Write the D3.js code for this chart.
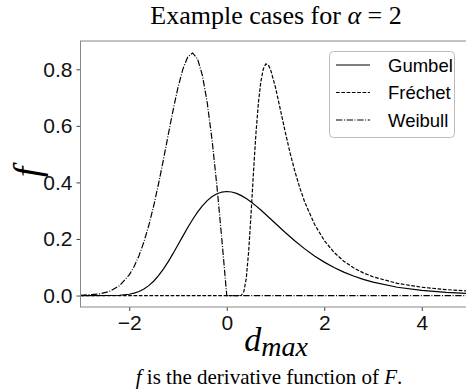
<!DOCTYPE html>
<html>
<head>
<meta charset="utf-8">
<script src="https://cdn.jsdelivr.net/npm/d3@7"></script>
<style>
  body { margin: 0; background: #fff; }
</style>
</head>
<body>
<div id="container"></div>
<script>
// values
var gumbelX = [-3, -2.4, -2.2, -2.0, -1.9, -1.8, -1.7, -1.6, -1.5, -1.4, -1.3, -1.2, -1.1, -1.0, -0.9, -0.8, -0.7, -0.6, -0.5, -0.4, -0.3, -0.2, -0.1, 0, 0.1, 0.2, 0.3, 0.4, 0.5, 0.6, 0.7, 0.8, 0.9, 1.0, 1.2, 1.4, 1.6, 1.8, 2.0, 2.2, 2.4, 2.6, 2.8, 3.0, 3.5, 4.0, 4.5, 5.0]
var gumbelY = [0, 0.0002, 0.0011, 0.0046, 0.0084, 0.0143, 0.0230, 0.0350, 0.0507, 0.0703, 0.0935, 0.1200, 0.1489, 0.1794, 0.2102, 0.2404, 0.2688, 0.2946, 0.3170, 0.3356, 0.3500, 0.3601, 0.3660, 0.3679, 0.3661, 0.3611, 0.3532, 0.3429, 0.3307, 0.3170, 0.3022, 0.2867, 0.2707, 0.2546, 0.2229, 0.1927, 0.1650, 0.1401, 0.1182, 0.0992, 0.0829, 0.0690, 0.0572, 0.0474, 0.0293, 0.0180, 0.0110, 0.0067]

var frechetX = [-3, 0, 0.25, 0.3, 0.35, 0.4, 0.45, 0.5, 0.55, 0.6, 0.65, 0.7, 0.75, 0.8, 0.85, 0.9, 1.0, 1.1, 1.2, 1.3, 1.4, 1.5, 1.6, 1.8, 2.0, 2.2, 2.4, 2.6, 2.8, 3.0, 3.5, 4.0, 4.5, 5.0]
var frechetY = [0, 0, 0, 0.0011, 0.0133, 0.0603, 0.1574, 0.2930, 0.4408, 0.5757, 0.6830, 0.7574, 0.8011, 0.8188, 0.8161, 0.7982, 0.7358, 0.6575, 0.5780, 0.5037, 0.4376, 0.3800, 0.3304, 0.2519, 0.1947, 0.1528, 0.1216, 0.0982, 0.0802, 0.0663, 0.0430, 0.0294, 0.0209, 0.0154]

var weibullX = [-3, -2.6, -2.4, -2.2, -2.0, -1.9, -1.8, -1.7, -1.6, -1.5, -1.4, -1.3, -1.2, -1.1, -1.0, -0.9, -0.8, -0.7, -0.6, -0.5, -0.4, -0.3, -0.2, -0.1, 0, 5]
var weibullY = [0.0007, 0.0060, 0.0151, 0.0348, 0.0733, 0.1028, 0.1410, 0.1890, 0.2474, 0.3162, 0.3944, 0.4798, 0.5686, 0.6560, 0.7358, 0.8007, 0.8437, 0.8577, 0.8372, 0.7788, 0.6817, 0.5484, 0.3843, 0.1980, 0, 0]

var seriesNames = ['Gumbel', 'Fréchet', 'Weibull']
var xTicks = [-2, 0, 2, 4]
var yTicks = [0.0, 0.2, 0.4, 0.6, 0.8]

var width = 466, height = 389

var svg = d3.select('#container').append('svg')
  .attr('width', width).attr('height', height)
  .style('font-family', '"Liberation Sans", Arial, sans-serif')

var x = d3.scaleLinear().domain([-3, 5]).range([80.5, 470.5])
var y = d3.scaleLinear().domain([-0.0405, 0.9]).range([307, 41])

svg.append('clipPath').attr('id', 'plot')
  .append('rect')
  .attr('x', x(-3)).attr('y', y(0.9))
  .attr('width', x(5) - x(-3)).attr('height', y(-0.0405) - y(0.9))

var styles = [
  { dash: null },
  { dash: '3.7,1.6' },
  { dash: '6.4,1.6,1,1.6' }
]

var series = [
  d3.zip(gumbelX, gumbelY),
  d3.zip(frechetX, frechetY),
  d3.zip(weibullX, weibullY)
]

var line = d3.line()
  .x(function (d) { return x(d[0]) })
  .y(function (d) { return y(d[1]) })

var plot = svg.append('g').attr('clip-path', 'url(#plot)')
series.forEach(function (s, i) {
  plot.append('path')
    .datum(s)
    .attr('d', line)
    .attr('fill', 'none')
    .attr('stroke', '#000')
    .attr('stroke-width', 1.2)
    .attr('stroke-dasharray', styles[i].dash)
})

// axes
var xAxis = svg.append('g')
  .attr('transform', 'translate(0,' + y(-0.0405) + ')')
  .call(d3.axisBottom(x).tickValues(xTicks).tickSizeOuter(0).tickSize(4).tickPadding(4))
var yAxis = svg.append('g')
  .attr('transform', 'translate(' + x(-3) + ',0)')
  .call(d3.axisLeft(y).tickValues(yTicks).tickFormat(d3.format('.1f')).tickSizeOuter(0).tickSize(4).tickPadding(4))

;[xAxis, yAxis].forEach(function (a) {
  a.select('.domain').remove()
  a.selectAll('line').attr('stroke', '#444')
  a.selectAll('text').attr('fill', '#111')
    .style('font-size', '21px')
    .style('font-family', '"Liberation Sans", Arial, sans-serif')
})

// frame
svg.append('rect')
  .attr('x', x(-3)).attr('y', y(0.9))
  .attr('width', x(5) - x(-3)).attr('height', y(-0.0405) - y(0.9))
  .attr('fill', 'none').attr('stroke', '#888').attr('stroke-width', 1)

// legend
var legend = svg.append('g')
legend.append('rect')
  .attr('x', 329.5).attr('y', 51.5).attr('width', 125).attr('height', 86)
  .attr('rx', 4).attr('fill', '#fff').attr('stroke', '#bbb').attr('stroke-width', 1)
seriesNames.forEach(function (name, i) {
  var ly = 65 + i * 27.5
  legend.append('line')
    .attr('x1', 336).attr('x2', 370).attr('y1', ly).attr('y2', ly)
    .attr('stroke', '#000').attr('stroke-width', 1.2)
    .attr('stroke-dasharray', styles[i].dash)
  legend.append('text')
    .attr('x', 388).attr('y', ly + 6.5)
    .style('font-size', '18.5px')
    .text(name)
})

// titles
var serif = '"Liberation Serif", "DejaVu Serif", serif'
var title = svg.append('text')
  .attr('x', 276).attr('y', 24)
  .attr('text-anchor', 'middle')
  .style('font-family', serif).style('font-size', '26px')
title.append('tspan').text('Example cases for ')
title.append('tspan').style('font-style', 'italic').text('α')
title.append('tspan').text(' = 2')

var xl = svg.append('text')
  .attr('x', 276).attr('y', 351)
  .attr('text-anchor', 'middle')
  .style('font-family', serif).style('font-style', 'italic')
xl.append('tspan').style('font-size', '34px').text('d')
xl.append('tspan').style('font-size', '28px').attr('dy', 5).text('max')

svg.append('text')
  .attr('transform', 'translate(40,172) rotate(-90)')
  .attr('text-anchor', 'middle')
  .style('font-family', serif).style('font-style', 'italic').style('font-size', '38px')
  .text('f')

var cap = svg.append('text')
  .attr('x', 269).attr('y', 384)
  .attr('text-anchor', 'middle')
  .style('font-family', serif).style('font-size', '21px')
cap.append('tspan').style('font-style', 'italic').text('f')
cap.append('tspan').text(' is the derivative function of ')
cap.append('tspan').style('font-style', 'italic').text('F')
cap.append('tspan').text('.')
</script>
</body>
</html>
